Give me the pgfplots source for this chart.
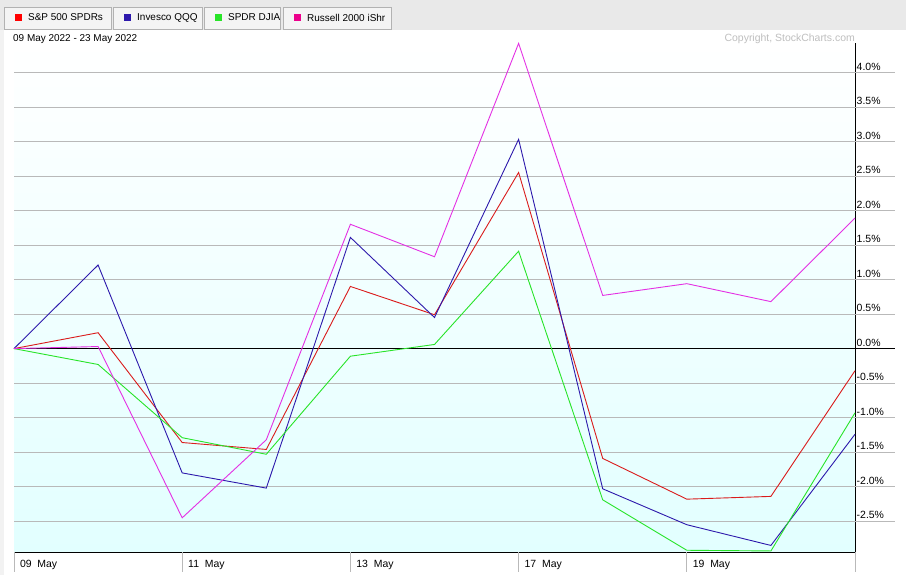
\documentclass[border=0pt]{standalone}
\usepackage{fontspec}
\setmainfont{Liberation Sans}
\usepackage{pgfplots}
\pgfplotsset{compat=1.18}

\definecolor{spyred}{RGB}{218,28,28}
\definecolor{qqqblue}{RGB}{45,25,172}
\definecolor{diagreen}{RGB}{40,228,40}
\definecolor{iwmmag}{RGB}{228,48,228}
\definecolor{bgcyan}{RGB}{226,255,255}
\definecolor{hdrgray}{RGB}{233,233,233}
\definecolor{btnfill}{RGB}{244,244,244}
\definecolor{btnline}{RGB}{178,178,178}
\definecolor{gridgray}{RGB}{185,185,185}

\begin{document}
\begin{tikzpicture}[x=1bp,y=1bp,font=\fontsize{10}{12}\selectfont]
\useasboundingbox (0,0) rectangle (906,575);
\fill[white] (0,0) rectangle (906,575);
\fill[black!5] (0,0) rectangle (4,545);
\fill[hdrgray] (0,545) rectangle (906,575);

% legend buttons
\draw[btnline, fill=btnfill] (4,546) rectangle (111,568);
\fill[red] (15,554) rectangle (22,561);
\node[anchor=west, inner sep=0] at (28,557.5) {S\&P 500 SPDRs};
\draw[btnline, fill=btnfill] (113,546) rectangle (202,568);
\fill[qqqblue] (124,554) rectangle (131,561);
\node[anchor=west, inner sep=0] at (137,557.5) {Invesco QQQ};
\draw[btnline, fill=btnfill] (204,546) rectangle (280,568);
\fill[diagreen] (215,554) rectangle (222,561);
\node[anchor=west, inner sep=0] at (228,557.5) {SPDR DJIA};
\draw[btnline, fill=btnfill] (283,546) rectangle (391,568);
\fill[magenta] (294,554) rectangle (301,561);
\node[anchor=west, inner sep=0] at (307,557.5) {Russell 2000 iShr};

\begin{axis}[
  at={(14bp,23bp)}, anchor=south west,
  width=841bp, height=509bp, scale only axis,
  xmin=0, xmax=10, ymin=-2.945, ymax=4.425,
  axis x line*=bottom, axis y line*=right,
  axis line style={black, line width=0.9bp},
  xtick={0,2,4,6,8},
  xticklabels={09\ \ May,11\ \ May,13\ \ May,17\ \ May,19\ \ May},
  ytick={-2.5,-2,-1.5,-1,-0.5,0,0.5,1,1.5,2,2.5,3,3.5,4},
  yticklabel={\pgfmathprintnumber[fixed,fixed zerofill,precision=1]{\tick}\%},
  /pgf/number format/assume math mode=true,
  major tick length=0pt,
  ymajorgrids, grid style={gridgray, line width=0.7bp},
  clip=false,
  axis background/.style={top color=white, bottom color=bgcyan},
  tick label style={font=\fontsize{10.5}{12}\selectfont},
  xticklabel style={anchor=west, xshift=2.5bp, yshift=-13bp},
  yticklabel style={anchor=south west, inner sep=1bp, xshift=0.5bp, yshift=1bp},
]
\pgfplotsinvokeforeach{0,2,4,6,8,10}{
  \draw[gridgray, line width=0.7bp] (axis cs:#1,-2.945) -- ([yshift=-20bp]axis cs:#1,-2.945);
}
\pgfplotsinvokeforeach{-2.5,-2,-1.5,-1,-0.5,0.5,1,1.5,2,2.5,3,3.5,4}{
  \draw[gridgray, line width=0.7bp] (axis cs:10,#1) -- ([xshift=40bp]axis cs:10,#1);
}
\draw[black, line width=0.9bp] (axis cs:0,0) -- ([xshift=40bp]axis cs:10,0);

% S&P 500 SPDRs
\addplot[spyred, line width=0.9bp] coordinates {
  (0,0) (1,0.23) (2,-1.36) (3,-1.46) (4,0.90) (5,0.49)
  (6,2.55) (7,-1.59) (8,-2.18) (9,-2.14) (10,-0.32)
};
% Invesco QQQ
\addplot[qqqblue, line width=0.9bp] coordinates {
  (0,0) (1,1.21) (2,-1.80) (3,-2.02) (4,1.61) (5,0.45)
  (6,3.03) (7,-2.03) (8,-2.55) (9,-2.85) (10,-1.24)
};
% SPDR DJIA
\addplot[diagreen, line width=0.9bp] coordinates {
  (0,0) (1,-0.23) (2,-1.29) (3,-1.53) (4,-0.11) (5,0.06)
  (6,1.41) (7,-2.19) (8,-2.92) (9,-2.93) (10,-0.93)
};
% Russell 2000 iShr
\addplot[iwmmag, line width=0.9bp] coordinates {
  (0,0) (1,0.03) (2,-2.45) (3,-1.32) (4,1.80) (5,1.33)
  (6,4.42) (7,0.77) (8,0.94) (9,0.68) (10,1.89)
};
\end{axis}

\node[anchor=west, inner sep=0] at (13,536) {09 May 2022 - 23 May 2022};
\node[anchor=east, inner sep=0, text=black!25, font=\fontsize{10.5}{12}\selectfont] at (855,536) {Copyright, StockCharts.com};
\end{tikzpicture}
\end{document}
